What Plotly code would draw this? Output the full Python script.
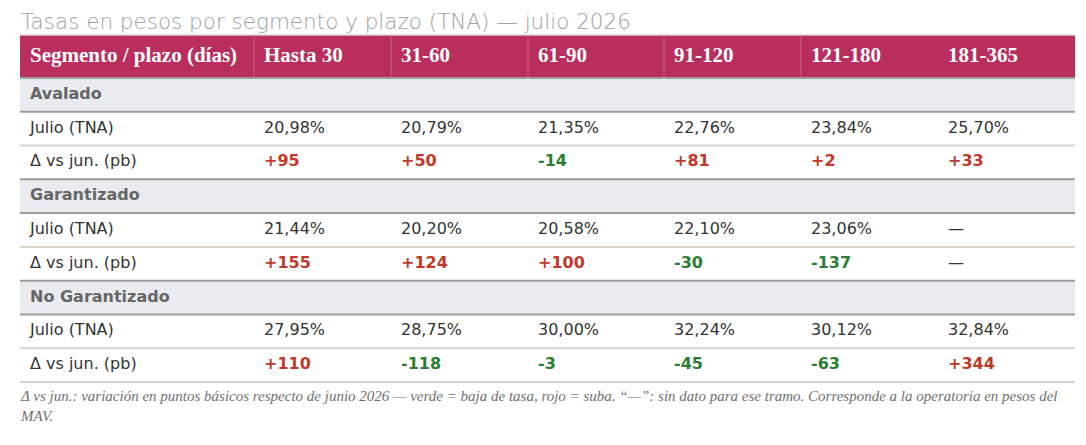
import plotly.graph_objects as go

title = "Tasas en pesos por segmento y plazo (TNA) — julio 2026"
header = ["Segmento / plazo (días)", "Hasta 30", "31-60", "61-90", "91-120", "121-180", "181-365"]
segments = ["Avalado", "Garantizado", "No Garantizado"]
row_labels = ["Julio (TNA)", "Δ vs jun. (pb)"]

# TNA de julio, % (None = sin dato)
tna_avalado = [20.98, 20.79, 21.35, 22.76, 23.84, 25.70]
tna_garantizado = [21.44, 20.20, 20.58, 22.10, 23.06, None]
tna_no_garantizado = [27.95, 28.75, 30.00, 32.24, 30.12, 32.84]

# variación vs junio, puntos básicos
pb_avalado = [95, 50, -14, 81, 2, 33]
pb_garantizado = [155, 124, 100, -30, -137, None]
pb_no_garantizado = [110, -118, -3, -45, -63, 344]

footnote = ("Δ vs jun.: variación en puntos básicos respecto de junio 2026 — verde = baja de tasa, "
            "rojo = suba. “—”: sin dato para ese tramo. Corresponde a la operatoria en pesos del<br>MAV.")

# geometría en px de la página (el body tiene 8px de margen)
W, H = 1086, 445
OFF = 8
col_edges = [20, 254, 391, 528, 664, 801, 938, 1075]
head_top, head_bot = 35, 78
row_h = (382 - head_bot) / 9
pad = 10

HEAD_BG = "#b92e5d"
SEC_BG = "#e8ebef"
GREY_LINE = "#9c9c9c"
BEIGE_LINE = "#dcd3c8"
RED = "#c0392b"
GREEN = "#2b7d34"
TXT = "#333333"

SANS = "DejaVu Sans"
SERIF = "Liberation Serif"

tna = [tna_avalado, tna_garantizado, tna_no_garantizado]
pb = [pb_avalado, pb_garantizado, pb_no_garantizado]


def fmt_tna(v):
    return "—" if v is None else f"{v:.2f}".replace(".", ",") + "%"


def fmt_pb(v):
    if v is None:
        return "—", TXT
    if v > 0:
        return f"<b>+{v}</b>", RED
    return f"<b>{v}</b>", GREEN


# filas: (tipo, índice de segmento)
rows = []
for i, s in enumerate(segments):
    rows += [("sec", i), ("tna", i), ("pb", i)]

fig = go.Figure()
shapes = []

shapes.append(dict(type="rect", x0=col_edges[0], x1=col_edges[-1], y0=head_top, y1=head_bot,
                   fillcolor=HEAD_BG, line_width=0, layer="below"))
shapes.append(dict(type="line", x0=col_edges[0], x1=col_edges[-1], y0=head_top, y1=head_top,
                   line=dict(color=BEIGE_LINE, width=1.5)))
for xe in col_edges[1:6]:
    shapes.append(dict(type="line", x0=xe, x1=xe, y0=head_top, y1=head_bot,
                       line=dict(color="#d3658b", width=1)))

sec_y, sec_t = [], []
lab_y, lab_t = [], []
cells = [dict(y=[], t=[], c=[]) for _ in range(6)]

for r, (kind, si) in enumerate(rows):
    y0 = head_bot + r * row_h
    y1 = y0 + row_h
    yc = (y0 + y1) / 2
    if kind == "sec":
        shapes.append(dict(type="rect", x0=col_edges[0], x1=col_edges[-1], y0=y0, y1=y1,
                           fillcolor=SEC_BG, line_width=0, layer="below"))
        sec_y.append(yc)
        sec_t.append(segments[si])
        bottom_col = GREY_LINE
    elif kind == "tna":
        lab_y.append(yc)
        lab_t.append(row_labels[0])
        for j, v in enumerate(tna[si]):
            cells[j]["y"].append(yc)
            cells[j]["t"].append(fmt_tna(v))
            cells[j]["c"].append(TXT)
        bottom_col = BEIGE_LINE
    else:
        lab_y.append(yc)
        lab_t.append(row_labels[1])
        for j, v in enumerate(pb[si]):
            t, c = fmt_pb(v)
            cells[j]["y"].append(yc)
            cells[j]["t"].append(t)
            cells[j]["c"].append(c)
        bottom_col = BEIGE_LINE if r == len(rows) - 1 else GREY_LINE
    shapes.append(dict(type="line", x0=col_edges[0], x1=col_edges[-1], y0=y1, y1=y1,
                       line=dict(color=bottom_col, width=2)))

# línea bajo el encabezado
shapes.append(dict(type="line", x0=col_edges[0], x1=col_edges[-1], y0=head_bot, y1=head_bot,
                   line=dict(color=GREY_LINE, width=2)))

# encabezado
fig.add_trace(go.Scatter(
    x=[e + pad for e in col_edges[:-1]], y=[(head_top + head_bot) / 2] * 7,
    text=[f"<b>{h}</b>" for h in header], mode="text", textposition="middle right",
    textfont=dict(family=SERIF, size=21, color="white"), hoverinfo="skip"))

fig.add_trace(go.Scatter(
    x=[col_edges[0] + pad] * len(sec_y), y=sec_y, text=[f"<b>{s}</b>" for s in sec_t],
    mode="text", textposition="middle right",
    textfont=dict(family=SANS, size=16, color="#666666"), hoverinfo="skip"))

fig.add_trace(go.Scatter(
    x=[col_edges[0] + pad] * len(lab_y), y=lab_y, text=lab_t,
    mode="text", textposition="middle right",
    textfont=dict(family=SANS, size=16, color=TXT), hoverinfo="skip"))

for j, c in enumerate(cells):
    fig.add_trace(go.Scatter(
        x=[col_edges[j + 1] + pad] * len(c["y"]), y=c["y"], text=c["t"],
        mode="text", textposition="middle right",
        textfont=dict(family=SANS, size=16, color=c["c"]), hoverinfo="skip"))

fig.add_annotation(x=col_edges[0] - 1, y=21, text=title, showarrow=False, xanchor="left", yanchor="middle",
                   font=dict(family=SANS, size=21.5, color="#a0a0a0", weight=300))
fig.add_annotation(x=col_edges[0] - 2, y=386, text=f"<i>{footnote}</i>", showarrow=False,
                   xanchor="left", yanchor="top", align="left",
                   font=dict(family=SERIF, size=15, color="#707070"))

fig.update_layout(
    width=W - 2 * OFF, height=H - 2 * OFF, margin=dict(l=0, r=0, t=0, b=0),
    paper_bgcolor="white", plot_bgcolor="white", showlegend=False,
    xaxis=dict(range=[OFF, W - OFF], visible=False, fixedrange=True),
    yaxis=dict(range=[H - OFF, OFF], visible=False, fixedrange=True),
    shapes=shapes,
)

fig.write_html("out.html", config={"displayModeBar": False})
